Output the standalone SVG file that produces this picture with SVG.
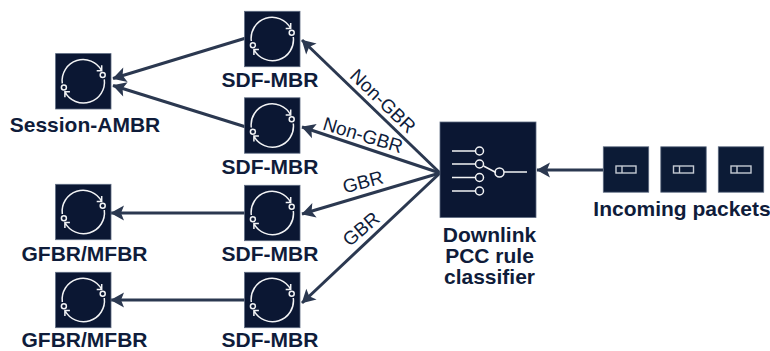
<svg xmlns="http://www.w3.org/2000/svg" xmlns:xlink="http://www.w3.org/1999/xlink" width="770" height="351" viewBox="0 0 770 351">
<style>
.box{fill:#0b1733;stroke:#5d6a80;stroke-width:.8}
.pk{fill:#0c1b36;stroke:#5d6a80;stroke-width:.8}
.ic{fill:none;stroke:#f2f3f5;stroke-width:1.5}
.pi{fill:none;stroke:#c4c9d2;stroke-width:1.4}
.lbl{font-family:"Liberation Sans",Arial,sans-serif;font-weight:700;font-size:21px;fill:#0f1c3a;text-anchor:middle}
.edge{font-family:"Liberation Sans",Arial,sans-serif;font-size:19px;fill:#0f1c3a;text-anchor:middle}
.cn{fill:none;stroke:#2b3850;stroke-width:3;marker-end:url(#ah)}
</style>
<defs>
<marker id="ah" markerUnits="userSpaceOnUse" markerWidth="16" markerHeight="18" viewBox="0 0 16 18" refX="14" refY="9" orient="auto"><path d="M14.500 9L1 1.500L4 9L1 16.500Z" fill="#2b3850"/></marker>
<g id="ring">
<rect class="box" x="-27.700" y="-27.700" width="55.400" height="55.400"/>
<path class="ic" d="M-21 2A21 21 0 0 1 18.400 -10.500M13.400 -10.500H18.400V-16"/>
<path class="ic" d="M21 -2A21 21 0 0 1 -18.400 10.500M-13.400 10.500H-18.400V16"/>
<circle class="ic" cx="19.400" cy="-6.200" r="2.500"/>
<circle class="ic" cx="-19.400" cy="6.200" r="2.500"/>
</g>
<g id="packet">
<rect class="pk" x="-22.700" y="-22.700" width="45.400" height="45.400"/>
<rect class="pi" x="-10" y="-3.500" width="20" height="7"/>
<path class="pi" d="M-4 -3.500V3.500"/>
</g>
</defs>
<g id="connectors">
<path class="cn" d="M246 38L113 78.500"/>
<path class="cn" d="M246 127L113 85.500"/>
<path class="cn" d="M246 213H111"/>
<path class="cn" d="M246 300H111"/>
<path class="cn" d="M440 173L302 40"/>
<path class="cn" d="M440 173L302 127"/>
<path class="cn" d="M440 173L302 214"/>
<path class="cn" d="M440 173L302 303"/>
<path class="cn" d="M603 170H537"/>
<text class="edge" transform="translate(383 101) rotate(44)" y="6.500">Non-GBR</text>
<text class="edge" transform="translate(363 135) rotate(17)" y="6.500">Non-GBR</text>
<text class="edge" transform="translate(363 182) rotate(-15)" y="6.500">GBR</text>
<text class="edge" transform="translate(361 229) rotate(-40)" y="6.500">GBR</text>
</g>
<g id="session-ambr"><use xlink:href="#ring" href="#ring" x="83.300" y="81.300"/><text class="lbl" x="85" y="132">Session-AMBR</text></g>
<g id="sdf-mbr-1"><use xlink:href="#ring" href="#ring" x="272.300" y="39"/><text class="lbl" x="270" y="87">SDF-MBR</text></g>
<g id="sdf-mbr-2"><use xlink:href="#ring" href="#ring" x="272.300" y="125.500"/><text class="lbl" x="270" y="174">SDF-MBR</text></g>
<g id="sdf-mbr-3"><use xlink:href="#ring" href="#ring" x="272.300" y="213"/><text class="lbl" x="270" y="261">SDF-MBR</text></g>
<g id="sdf-mbr-4"><use xlink:href="#ring" href="#ring" x="272.300" y="300"/><text class="lbl" x="270" y="347">SDF-MBR</text></g>
<g id="gfbr-mfbr-1"><use xlink:href="#ring" href="#ring" x="83.300" y="212"/><text class="lbl" x="84.500" y="261">GFBR/MFBR</text></g>
<g id="gfbr-mfbr-2"><use xlink:href="#ring" href="#ring" x="83.300" y="300"/><text class="lbl" x="84.500" y="347">GFBR/MFBR</text></g>
<g id="classifier">
<rect class="box" x="440" y="122" width="96" height="95.500"/>
<path class="ic" d="M452 151H475M452 164H475M452 177.500H475M452 191H475M483.500 166L496 172.500M504 172H527"/>
<circle class="ic" cx="479.500" cy="151" r="4"/><circle class="ic" cx="479.500" cy="164" r="4"/><circle class="ic" cx="479.500" cy="177.500" r="4"/><circle class="ic" cx="479.500" cy="191" r="4"/><circle class="ic" cx="499.500" cy="172.500" r="4.500"/>
<text class="lbl" x="489.500" y="242">Downlink</text><text class="lbl" x="489.500" y="263">PCC rule</text><text class="lbl" x="489.500" y="284">classifier</text>
</g>
<g id="packet-1"><use xlink:href="#packet" href="#packet" x="626" y="169.500"/></g>
<g id="packet-2"><use xlink:href="#packet" href="#packet" x="683.500" y="169.500"/></g>
<g id="packet-3"><use xlink:href="#packet" href="#packet" x="741" y="169.500"/></g>
<text class="lbl" x="682" y="216">Incoming packets</text>
</svg>
